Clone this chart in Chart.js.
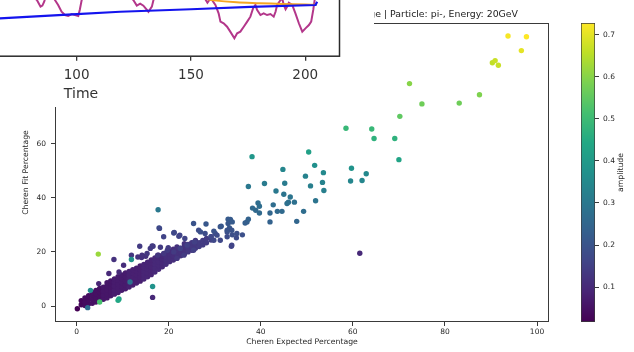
<!DOCTYPE html>
<html>
<head>
<meta charset="utf-8">
<script src="https://cdn.jsdelivr.net/npm/chart.js@4.4.1/dist/chart.umd.min.js"></script>
<style>
  html, body { margin: 0; padding: 0; background: #fff; }
  #stage { position: relative; width: 634px; height: 352px; overflow: hidden; }
  #main { position: absolute; left: 0; top: 0; }
  #cbar { position: absolute; left: 575px; top: 0; }
  #inset { position: absolute; left: 0; top: 0; width: 374px; height: 107px; overflow: hidden; background: #fff; }
  #timeChart { position: absolute; left: -180px; top: -110px; }
</style>
</head>
<body>
<div id="stage">
  <canvas id="main" width="634" height="352"></canvas>
  <canvas id="cbar" width="59" height="352"></canvas>
  <div id="inset"><canvas id="timeChart" width="552" height="217"></canvas></div>
</div>
<script>
// ---- scatter data: Cheren expected % (x), Cheren fit % (y), amplitude (colour) ----

// dense band near the origin, read column by column
const bandX = [1.0, 1.8, 2.6, 3.4, 4.2, 5.0, 5.8, 6.6, 7.4, 8.2, 9.0, 9.8, 10.6, 11.4, 12.2, 13.0, 13.8, 14.6, 15.4, 16.2, 17.0, 17.8, 18.6, 19.4, 20.2, 21.0, 21.8, 22.6, 23.4, 24.2, 25.0, 25.8, 26.6, 27.4, 28.2, 29.2]
const bandY = [
  [0.5, 2.0], [0.2, 1.5, 3.0], [0.8, 2.3, 3.8], [1.0, 2.5, 4.0, 5.0], [1.5, 3.0, 4.5, 5.8],
  [2.0, 3.5, 5.0, 6.5], [2.5, 4.0, 5.5, 7.0], [3.0, 4.5, 6.0, 7.5, 8.6], [3.8, 5.2, 6.7, 8.2, 9.3],
  [4.4, 5.8, 7.3, 8.8, 10.0], [5.0, 6.5, 8.0, 9.5, 10.8], [5.8, 7.2, 8.7, 10.2, 11.5],
  [6.4, 7.8, 9.3, 10.8, 12.2], [7.0, 8.5, 10.0, 11.5, 12.8], [7.8, 9.2, 10.7, 12.2, 13.4],
  [8.5, 10.0, 11.4, 12.8, 14.0], [9.2, 10.6, 12.0, 13.4, 14.8], [10.0, 11.4, 12.8, 14.2, 15.4],
  [10.8, 12.2, 13.6, 15.0, 16.2], [11.6, 13.0, 14.4, 15.8, 17.0], [12.6, 14.0, 15.4, 16.8, 17.8],
  [13.6, 15.0, 16.4, 17.8, 18.8], [14.5, 15.9, 17.3, 18.6], [15.4, 16.8, 18.2, 19.6],
  [16.4, 17.8, 19.2, 20.4], [17.0, 18.4, 19.8, 21.0], [17.8, 19.2, 20.6, 21.8],
  [18.6, 20.0, 21.4], [19.2, 20.6, 22.0, 23.0], [20.0, 21.4, 22.8], [20.6, 22.0, 23.4],
  [21.4, 22.8, 24.2], [22.0, 23.4], [22.6, 24.2], [23.4, 25.0], [24.4, 25.6]
]
const bandAmp = [0.03, 0.04, 0.04, 0.05, 0.05, 0.05, 0.06, 0.06, 0.06, 0.07, 0.07, 0.07, 0.07, 0.08, 0.08, 0.08, 0.08, 0.09, 0.09, 0.09, 0.10, 0.10, 0.10, 0.11, 0.11, 0.11, 0.12, 0.12, 0.12, 0.13, 0.13, 0.13, 0.14, 0.14, 0.14, 0.15]

// individual points around and above the band: [expected, fit, amplitude]
const spreadPoints = [
  [4.8, 8.3, 0.09], [7.0, 12.0, 0.10], [9.2, 12.6, 0.10], [10.2, 15.1, 0.11], [8.1, 17.2, 0.12],
  [11.9, 18.8, 0.13], [13.3, 18.1, 0.12], [14.1, 17.9, 0.12], [15.0, 18.4, 0.12], [14.2, 18.8, 0.12],
  [15.3, 19.4, 0.13], [17.6, 18.8, 0.13], [18.9, 19.4, 0.13], [13.7, 22.1, 0.14], [16.6, 22.1, 0.14],
  [16.0, 21.3, 0.14], [19.7, 20.6, 0.14], [21.1, 20.0, 0.14], [22.5, 21.3, 0.15], [24.0, 22.5, 0.15],
  [25.4, 20.6, 0.15], [23.3, 18.8, 0.14], [21.8, 17.6, 0.13], [16.4, 22.2, 0.14], [18.2, 21.7, 0.14],
  [19.9, 21.6, 0.14], [17.9, 28.9, 0.18], [18.0, 28.7, 0.17], [21.1, 27.0, 0.17], [18.9, 25.6, 0.16],
  [23.5, 25.0, 0.16], [22.2, 25.8, 0.16], [25.6, 23.7, 0.15], [26.5, 28.0, 0.18], [27.9, 26.8, 0.18],
  [21.2, 27.2, 0.17], [22.4, 26.2, 0.16], [25.4, 30.5, 0.20], [31.2, 29.3, 0.20], [30.1, 26.8, 0.18],
  [29.8, 24.3, 0.17], [31.2, 24.3, 0.17], [33.7, 22.5, 0.16], [32.7, 27.4, 0.19], [33.6, 22.1, 0.16],
  [28.1, 30.3, 0.21], [26.9, 27.4, 0.19], [29.8, 27.7, 0.20], [31.4, 29.5, 0.21], [32.9, 32.1, 0.22],
  [33.2, 28.9, 0.21], [32.7, 28.0, 0.20], [33.7, 28.0, 0.20], [33.8, 26.3, 0.19], [34.8, 26.8, 0.19],
  [36.0, 26.3, 0.19], [34.7, 25.2, 0.18], [32.7, 25.6, 0.18], [30.5, 26.2, 0.18], [29.2, 25.6, 0.17],
  [33.4, 32.0, 0.22], [32.9, 30.5, 0.21], [33.8, 31.1, 0.22], [37.0, 31.1, 0.23],
  [61.5, 19.5, 0.10],
  [42.0, 31.1, 0.24], [47.8, 31.3, 0.25], [37.3, 32.1, 0.24], [36.6, 30.7, 0.23],
  [42.7, 37.4, 0.27], [39.4, 38.1, 0.27], [39.7, 36.9, 0.27], [38.9, 35.4, 0.26], [38.2, 36.2, 0.26],
  [39.7, 34.4, 0.26], [43.6, 35.0, 0.26], [44.6, 35.0, 0.26], [42.0, 34.4, 0.25], [49.3, 35.0, 0.27],
  [46.0, 38.4, 0.28], [45.7, 37.9, 0.28], [47.3, 38.4, 0.28], [51.9, 38.9, 0.29], [45.0, 41.3, 0.29],
  [46.4, 40.3, 0.29], [43.3, 42.5, 0.30], [37.3, 44.2, 0.30], [40.8, 45.3, 0.31], [45.2, 45.4, 0.31],
  [50.8, 44.4, 0.32], [53.7, 42.7, 0.32], [49.7, 48.0, 0.33], [53.4, 45.7, 0.33], [59.5, 46.2, 0.34],
  [62.0, 46.4, 0.34], [44.8, 50.5, 0.34], [62.9, 48.9, 0.35], [53.6, 49.3, 0.35], [51.7, 52.0, 0.37],
  [38.1, 55.2, 0.39], [50.4, 56.9, 0.42],
  [59.7, 50.9, 0.38], [70.0, 54.1, 0.43], [64.6, 61.9, 0.47], [69.1, 61.9, 0.47], [58.5, 65.7, 0.49],
  [64.1, 65.4, 0.49], [70.2, 70.1, 0.55], [75.0, 74.7, 0.57], [83.1, 75.0, 0.57], [87.5, 78.1, 0.59],
  [72.3, 82.2, 0.60], [90.3, 89.9, 0.66], [90.9, 90.7, 0.67], [91.6, 89.0, 0.67], [96.6, 94.4, 0.70],
  [93.7, 99.8, 0.72], [97.7, 99.5, 0.728]
]

// odd points that sit on top of the band
const standoutPoints = [
  [0.15, -1.0, 0.017], [16.5, 3.2, 0.10], [2.4, -0.6, 0.27], [11.6, 8.9, 0.28], [17.7, 35.6, 0.30],
  [3.0, 5.8, 0.36], [16.5, 7.2, 0.38], [11.9, 17.2, 0.38], [9.2, 2.6, 0.42], [9.0, 2.1, 0.44],
  [5.0, 1.5, 0.52], [4.7, 19.2, 0.62]
]

const xTicks = [0, 20, 40, 60, 80, 100]
const yTicks = [0, 20, 40, 60, 80, 100]
const cbTicks = [0.1, 0.2, 0.3, 0.4, 0.5, 0.6, 0.7]
const ampMin = 0.017
const ampMax = 0.728

// ---- the window partly covering the plot: time series ----
const timeTicks = [0, 50, 100, 150, 200]
const blueT = [0, 25, 50, 66.4, 100, 119, 150, 176, 204.5, 205.2]
const blueV = [1.6, 1.95, 2.18, 2.33, 2.59, 2.73, 2.88, 3.02, 3.14, 3.34]
const orangeT = [0, 50, 100, 140, 155, 160, 170, 180, 190, 200, 205]
const orangeV = [6.5, 5.4, 4.4, 3.8, 3.55, 3.42, 3.3, 3.25, 3.2, 3.17, 3.15]
const purpleT = [0, 20, 40, 60, 70, 78, 82.6, 84.2, 85.0, 85.8, 87, 89, 90.5, 91.9, 93.4, 94.9, 96.3, 97.8, 99.3, 100.7, 101.4, 102.2, 104, 110, 116, 122, 124.8, 126.3, 127.8, 129.2, 131.4, 132.9, 133.6, 136, 145, 152, 156.2, 157.2, 158.3, 159.2, 160.7, 162.1, 162.9, 164.3, 165.8, 167.2, 169.0, 170.2, 171.6, 173.1, 174.6, 176.0, 177.2, 178.2, 178.9, 180.4, 181.8, 183.3, 184.8, 186.2, 187.0, 187.7, 189.2, 189.8, 190.6, 191.4, 192.1, 192.8, 194.3, 195.7, 197.2, 198.7, 200.1, 201.6, 202.6, 203.5, 204.1, 204.8]
const purpleV = [5.0, 4.8, 4.5, 4.6, 4.2, 3.9, 3.44, 3.04, 3.1, 3.34, 3.9, 3.8, 3.44, 3.14, 2.73, 2.53, 2.47, 2.59, 2.53, 2.47, 2.87, 3.44, 4.1, 4.6, 4.3, 3.9, 3.44, 3.1, 3.22, 3.1, 2.73, 3.04, 3.44, 4.2, 4.8, 4.1, 3.5, 3.28, 3.5, 3.44, 3.14, 2.63, 2.13, 2.03, 1.82, 1.52, 1.12, 1.42, 1.52, 1.82, 2.13, 2.43, 2.94, 3.14, 2.84, 2.53, 2.63, 2.53, 2.59, 2.43, 2.73, 3.14, 3.44, 3.6, 3.14, 2.88, 3.04, 3.28, 3.14, 2.63, 2.03, 1.52, 1.72, 1.92, 2.13, 2.84, 3.44, 4.3]

const FONT = "'DejaVu Sans', sans-serif"
const viridis = ["#440154", "#482475", "#414487", "#355f8d", "#2a788e", "#21918c", "#22a884", "#44bf70", "#7ad151", "#bddf26", "#fde725"]

function hexRgb(h) {
  return [1, 3, 5].map(i => parseInt(h.slice(i, i + 2), 16))
}

function viridisColor(t) {
  t = Math.max(0, Math.min(1, t))
  const pos = t * (viridis.length - 1)
  const i = Math.min(Math.floor(pos), viridis.length - 2)
  const f = pos - i
  const a = hexRgb(viridis[i])
  const b = hexRgb(viridis[i + 1])
  const c = a.map((v, k) => Math.round(v + (b[k] - v) * f))
  return `rgb(${c[0]},${c[1]},${c[2]})`
}

const ampColor = amp => viridisColor((amp - ampMin) / (ampMax - ampMin))

// build the point list: band, then spread, then standouts on top
const points = []
const colors = []
bandX.forEach((x, i) => {
  bandY[i].forEach(y => {
    points.push({ x: x, y: y })
    colors.push(ampColor(bandAmp[i]))
  })
})
spreadPoints.concat(standoutPoints).forEach(p => {
  points.push({ x: p[0], y: p[1] })
  colors.push(ampColor(p[2]))
})

const fixedTicks = list => scale => {
  scale.ticks = list.map(v => ({ value: v }))
}

const makeFrame = (id, color, width) => ({
  id: id,
  afterDatasetsDraw(chart) {
    const { ctx, chartArea: a } = chart
    ctx.save()
    ctx.strokeStyle = color
    ctx.lineWidth = width
    ctx.strokeRect(a.left + 0.5, a.top + 0.5, a.width - 1, a.height - 1)
    ctx.restore()
  },
})

const titleText = {
  id: "titleText",
  afterDraw(chart) {
    const ctx = chart.ctx
    ctx.save()
    ctx.font = "9.35px " + FONT
    ctx.fillStyle = "#222"
    ctx.textAlign = "right"
    ctx.textBaseline = "middle"
    ctx.fillText("Cheren Fit Percentage vs Cheren Expected Percentage | Particle: pi-, Energy: 20GeV", 518, 15)
    ctx.restore()
  },
}

const tickGrid = { display: true, drawOnChartArea: false, drawTicks: true, tickLength: 4, color: "#3a3a3a", lineWidth: 1 }

new Chart(document.getElementById("main"), {
  type: "scatter",
  data: {
    datasets: [{
      data: points,
      pointBackgroundColor: colors,
      pointBorderWidth: 0,
      pointRadius: 2.7,
      pointHoverRadius: 2.7,
    }],
  },
  options: {
    responsive: false,
    animation: false,
    events: [],
    layout: { padding: { left: 0, right: 85, top: 23, bottom: 0 } },
    plugins: { legend: { display: false }, tooltip: { enabled: false } },
    scales: {
      x: {
        type: "linear",
        min: -4.7,
        max: 102.6,
        afterBuildTicks: fixedTicks(xTicks),
        afterFit: s => { s.height = 30 },
        grid: tickGrid,
        border: { display: false },
        ticks: { font: { family: FONT, size: 7.5 }, color: "#262626", padding: 2, maxRotation: 0 },
        title: { display: true, text: "Cheren Expected Percentage", font: { family: FONT, size: 7.7 }, color: "#262626", padding: { top: 0, bottom: 5 } },
      },
      y: {
        type: "linear",
        min: -5.9,
        max: 104.6,
        afterBuildTicks: fixedTicks(yTicks),
        afterFit: s => { s.width = 55 },
        grid: tickGrid,
        border: { display: false },
        ticks: { font: { family: FONT, size: 7.5 }, color: "#262626", padding: 5 },
        title: { display: true, text: "Cheren Fit Percentage", font: { family: FONT, size: 7.7 }, color: "#262626", padding: { top: 21, bottom: 0 } },
      },
    },
  },
  plugins: [makeFrame("mainFrame", "#3a3a3a", 1), titleText],
})

// colour bar: one floating bar filled with the viridis ramp
const cbarLabel = {
  id: "cbarLabel",
  afterDraw(chart) {
    const ctx = chart.ctx
    ctx.save()
    ctx.translate(46, 172.5)
    ctx.rotate(-Math.PI / 2)
    ctx.font = "7.7px " + FONT
    ctx.fillStyle = "#262626"
    ctx.textAlign = "center"
    ctx.textBaseline = "middle"
    ctx.fillText("amplitude", 0, 0)
    ctx.restore()
  },
}

new Chart(document.getElementById("cbar"), {
  type: "bar",
  data: {
    labels: ["amplitude"],
    datasets: [{
      data: [[ampMin, ampMax]],
      backgroundColor: ctx => {
        const area = ctx.chart.chartArea
        if (!area) return viridis[5]
        const g = ctx.chart.ctx.createLinearGradient(0, area.bottom, 0, area.top)
        viridis.forEach((c, i) => g.addColorStop(i / (viridis.length - 1), c))
        return g
      },
      borderColor: "#3a3a3a",
      borderWidth: 1,
      borderSkipped: false,
      barPercentage: 1,
      categoryPercentage: 1,
    }],
  },
  options: {
    responsive: false,
    animation: false,
    events: [],
    layout: { padding: { left: 6, right: 0, top: 23, bottom: 30 } },
    plugins: { legend: { display: false }, tooltip: { enabled: false } },
    scales: {
      x: { display: false },
      y: {
        position: "right",
        min: ampMin,
        max: ampMax,
        afterBuildTicks: fixedTicks(cbTicks),
        afterFit: s => { s.width = 39 },
        grid: tickGrid,
        border: { display: false },
        ticks: { font: { family: FONT, size: 7.5 }, color: "#262626", padding: 4, callback: v => v.toFixed(1) },
      },
    },
  },
  plugins: [cbarLabel],
})

// the other window (time series) lying over the top-left corner
const toXY = (ts, vs) => ts.map((t, i) => ({ x: t, y: vs[i] }))

new Chart(document.getElementById("timeChart"), {
  type: "line",
  data: {
    datasets: [
      { data: toXY(blueT, blueV), borderColor: "#1414ee", borderWidth: 2.2, pointRadius: 0, tension: 0 },
      { data: toXY(orangeT, orangeV), borderColor: "#f5a623", borderWidth: 2, pointRadius: 0, tension: 0.3 },
      { data: toXY(purpleT, purpleV), borderColor: "#b3368a", borderWidth: 2, pointRadius: 0, tension: 0 },
    ],
  },
  options: {
    responsive: false,
    animation: false,
    events: [],
    layout: { padding: { left: 2, right: 32, top: 2, bottom: 0 } },
    plugins: { legend: { display: false }, tooltip: { enabled: false } },
    scales: {
      x: {
        type: "linear",
        min: -11.4,
        max: 215.2,
        afterBuildTicks: fixedTicks(timeTicks),
        afterFit: s => { s.height = 50.3 },
        grid: { display: true, drawOnChartArea: false, drawTicks: true, tickLength: 4, color: "#333", lineWidth: 1.3 },
        border: { display: false },
        ticks: { font: { family: FONT, size: 13.5 }, color: "#333", padding: 7, maxRotation: 0 },
        title: { display: true, text: "Time", font: { family: FONT, size: 14 }, color: "#333", padding: { top: 0, bottom: 4 } },
      },
      y: { display: false, min: 0, max: 10 },
    },
  },
  plugins: [makeFrame("timeFrame", "#2a2a2a", 1.5)],
})
</script>
</body>
</html>
